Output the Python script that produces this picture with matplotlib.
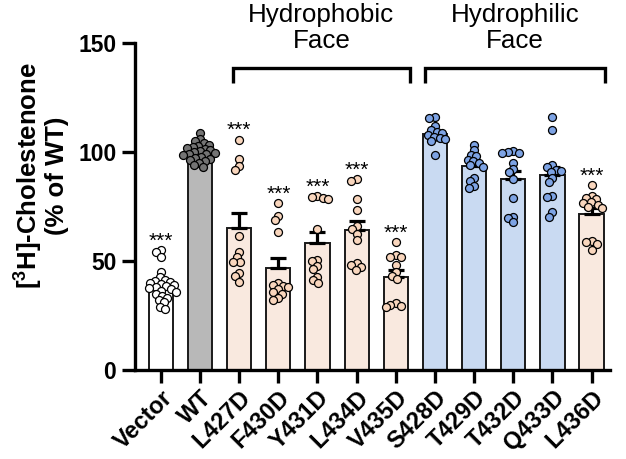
import numpy as np
import matplotlib
matplotlib.use('Agg')
import matplotlib.pyplot as plt

plt.rcParams['font.family'] = ['Liberation Sans', 'DejaVu Sans']
plt.rcParams['mathtext.fontset'] = 'custom'
plt.rcParams['mathtext.rm'] = 'Liberation Sans:bold'
plt.rcParams['mathtext.it'] = 'Liberation Sans:bold'
plt.rcParams['mathtext.bf'] = 'Liberation Sans:bold'

categories = ['Vector', 'WT', 'L427D', 'F430D', 'Y431D', 'L434D', 'V435D',
              'S428D', 'T429D', 'T432D', 'Q433D', 'L436D']

vector = [55, 54, 52, 45, 42.5, 41.5, 41, 40.5, 40, 39.5, 39, 38.5, 38, 37.5, 37, 36.5, 36, 35, 34, 33, 32, 31, 29, 28]
wt = [109, 106, 105, 104, 103.5, 103, 102.5, 102, 101.5, 101, 100.5, 100, 99.8, 99.3, 99, 98.6, 98, 97.5, 97, 96.5, 96, 95, 94, 93]
l427d = [105.8, 97, 93.6, 92, 61.7, 54, 51.7, 49.8, 49.8, 44.5, 43, 40.2]
f430d = [76.7, 70.9, 69, 63.4, 40, 39, 38.5, 38, 37, 36, 35, 33, 32]
y431d = [80, 79.5, 79, 78.5, 64.7, 50.6, 50.2, 47.9, 46.3, 42.6, 41.1, 39.9]
l434d = [87.7, 86.7, 78.6, 73.3, 66, 64.7, 62.4, 59.8, 49.1, 48.3, 47.5, 46]
v435d = [58.6, 52.9, 52.1, 51.8, 48, 45.2, 43.3, 42, 30.7, 29.9, 29.5, 28.7]
s428d = [116, 115.5, 112, 110, 109.3, 108.8, 108, 107, 106.5, 106, 105, 98.5]
t429d = [103.5, 100.9, 98.8, 98.2, 96.6, 96, 95, 93.9, 93.3, 88.2, 86.7, 84.7, 83.6]
t432d = [100.5, 100.2, 99.8, 99.5, 95.1, 92.4, 90.8, 87.8, 79, 70.4, 69.9, 67.8]
q433d = [116.3, 110.4, 93.9, 93.4, 91.9, 91.5, 90.8, 88.2, 86.2, 80, 79.6, 72.4, 70.3]
l436d = [85.1, 79.8, 78.8, 78.4, 77.2, 76.8, 75.9, 75, 74.4, 59.2, 58.8, 58, 55.2]

series = [vector, wt, l427d, f430d, y431d, l434d, v435d,
          s428d, t429d, t432d, q433d, l436d]
groups = ['vec', 'wt', 'pho', 'pho', 'pho', 'pho', 'pho',
          'phi', 'phi', 'phi', 'phi', 'pho']
significant = [True, False, True, True, True, True, True,
               False, False, False, False, True]
group_labels = ['Hydrophobic\nFace', 'Hydrophilic\nFace']

bar_colors = {'vec': '#ffffff', 'wt': '#b8b8b8', 'pho': '#f9e9df', 'phi': '#c9daf2'}
dot_colors = {'vec': '#ffffff', 'wt': '#747474', 'pho': '#f9d6bd', 'phi': '#7da3e4'}

W, H = 626, 459
fig = plt.figure(figsize=(W / 100, H / 100), dpi=100)
ax_l, ax_r, ax_b, ax_t = 135, 610, 370, 43.3
ax = fig.add_axes([ax_l / W, (H - ax_b) / H, (ax_r - ax_l) / W, (ax_b - ax_t) / H])
xlim = (-0.66, 11.47)
ylim = (0, 150)
ax.set_xlim(*xlim)
ax.set_ylim(*ylim)

px_per_x = (ax_r - ax_l) / (xlim[1] - xlim[0])
px_per_y = (ax_b - ax_t) / (ylim[1] - ylim[0])
diam = 5.6  # collision spacing in px (dots overlap a little, as in Prism)


def beeswarm(vals):
    vals = np.asarray(vals, dtype=float)
    order = np.argsort(-vals)
    placed = []
    offs = np.zeros(len(vals))
    for idx in order:
        y = vals[idx] * px_per_y
        cands = [0.0]
        for (px, py) in placed:
            dy = y - py
            if abs(dy) < diam:
                dx = np.sqrt(diam ** 2 - dy ** 2)
                cands += [px + dx, px - dx]
        cands = sorted(cands, key=lambda c: (abs(c), c))
        for c in cands:
            ok = all((c - px) ** 2 + (y - py) ** 2 >= diam ** 2 - 1e-6 for (px, py) in placed)
            if ok:
                break
        placed.append((c, y))
        offs[idx] = c / px_per_x
    return offs


x = np.arange(len(categories))
for i, vals in enumerate(series):
    g = groups[i]
    v = np.asarray(vals, dtype=float)
    mean = v.mean()
    sem = v.std(ddof=1) / np.sqrt(len(v))
    ax.bar(x[i], mean, width=0.62, color=bar_colors[g], edgecolor='#1a1a1a',
           linewidth=1.4, zorder=2)
    ax.errorbar(x[i], mean, yerr=[[0], [sem]], fmt='none', ecolor='black',
                elinewidth=2.3, capsize=5.8, capthick=2.3, zorder=3)
    ax.scatter(x[i] + beeswarm(v), v, s=33, c=dot_colors[g], edgecolors='black',
               linewidths=0.9, zorder=4, clip_on=False)
    if significant[i]:
        ax.text(x[i], v.max() + 1.5, '***', ha='center', va='baseline',
                fontsize=15, color='black', zorder=5)

for s in ['top', 'right']:
    ax.spines[s].set_visible(False)
for s in ['left', 'bottom']:
    ax.spines[s].set_linewidth(2.4)

ax.set_yticks([0, 50, 100, 150])
ax.set_xticks(x)
ax.set_xticklabels(categories, rotation=45, ha='right', rotation_mode='anchor',
                   fontweight='bold', fontsize=17)
ax.tick_params(axis='both', length=9.5, width=2.4)
ax.tick_params(axis='y', labelsize=16.5, pad=4)
ax.tick_params(axis='x', pad=2)
for lab in ax.get_yticklabels():
    lab.set_fontweight('bold')

ax.set_ylabel('[$^3$H]-Cholestenone\n(% of WT)', fontsize=18.5, fontweight='bold',
              linespacing=1.0)
ax.yaxis.set_label_coords(-0.138, 0.595)

# group brackets
brackets = [(2 - 0.17, 6 + 0.37), (7 - 0.26, 11 + 0.34)]
yb, yt = 131.9, 138.8
for (x0, x1), lab in zip(brackets, group_labels):
    ax.plot([x0, x0, x1, x1], [yb, yt, yt, yb], color='black', lw=2.4,
            clip_on=False, solid_joinstyle='miter', solid_capstyle='butt')
    ax.text((x0 + x1) / 2, 157, lab, ha='center', va='center', fontsize=18.7,
            linespacing=1.15)

fig.savefig('out.png', dpi=100)
